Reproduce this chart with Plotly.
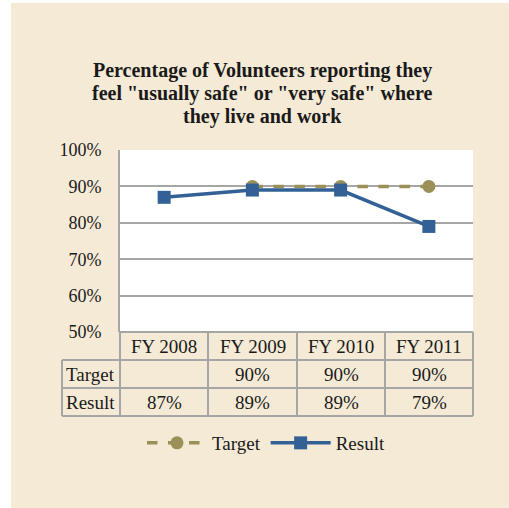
import plotly.graph_objects as go

# ── data ──────────────────────────────────────────────────────────────────────
years   = ['FY 2008', 'FY 2009', 'FY 2010', 'FY 2011']
target  = [None, 90, 90, 90]
result  = [87, 89, 89, 79]
y_ticks = [50, 60, 70, 80, 90, 100]

TITLE_LINES = ['Percentage of Volunteers reporting they',
               'feel "usually safe" or "very safe" where',
               'they live and work']

# ── geometry (pixels) ─────────────────────────────────────────────────────────
W, H = 509, 508
PL, PR, PT, PB = 120, 473, 150, 332      # plot area
ROW_H = 28
LABEL_X = 62
COL_EDGES = [120, 208, 297, 385, 473]

BEIGE = '#F5EAD6'
GRID  = '#A6A6A6'
BLUE  = '#336196'
OLIVE = '#9B9058'
INK   = '#1a1a1a'
FONT  = 'Liberation Serif, Times New Roman, serif'


def px_x(p):
    return (p - PL) / (PR - PL)


def px_y(p):
    return (PB - p) / (PB - PT)


fig = go.Figure()
fig.add_trace(go.Scatter(
    x=years, y=target, name='Target', mode='lines+markers',
    line=dict(color=OLIVE, width=3.5, dash='dash'),
    marker=dict(symbol='circle', size=13, color=OLIVE),
))
fig.add_trace(go.Scatter(
    x=years, y=result, name='Result', mode='lines+markers',
    line=dict(color=BLUE, width=3.5),
    marker=dict(symbol='square', size=13, color=BLUE),
))

# white page margin at the left and top of the beige panel
shapes = [
    dict(type='rect', xref='paper', yref='paper', layer='below',
         x0=px_x(-5), x1=px_x(11), y0=px_y(H + 5), y1=px_y(-5),
         fillcolor='white', line_width=0),
    dict(type='rect', xref='paper', yref='paper', layer='below',
         x0=px_x(-5), x1=px_x(W + 5), y0=px_y(3), y1=px_y(-5),
         fillcolor='white', line_width=0),
]

line_kw = dict(type='line', xref='paper', yref='paper',
               line=dict(color=GRID, width=2))
# horizontal table lines
shapes.append(dict(line_kw, x0=px_x(PL), x1=px_x(PR), y0=px_y(PB), y1=px_y(PB)))
for r in (1, 2, 3):
    yy = px_y(PB + r * ROW_H)
    shapes.append(dict(line_kw, x0=px_x(LABEL_X), x1=px_x(PR), y0=yy, y1=yy))
# vertical table lines
shapes.append(dict(line_kw, x0=px_x(LABEL_X), x1=px_x(LABEL_X),
                   y0=px_y(PB + ROW_H), y1=px_y(PB + 3 * ROW_H)))
for e in COL_EDGES:
    shapes.append(dict(line_kw, x0=px_x(e), x1=px_x(e),
                       y0=px_y(PB), y1=px_y(PB + 3 * ROW_H)))

annotations = []
txt = dict(xref='paper', yref='paper', showarrow=False,
           font=dict(family=FONT, size=19, color=INK),
           yanchor='middle')
for i, yr in enumerate(years):
    cx = px_x((COL_EDGES[i] + COL_EDGES[i + 1]) / 2)
    annotations.append(dict(txt, x=cx, y=px_y(PB + ROW_H / 2), text=yr,
                            xanchor='center'))
    if target[i] is not None:
        annotations.append(dict(txt, x=cx, y=px_y(PB + 1.5 * ROW_H),
                                text=f'{target[i]}%', xanchor='center'))
    annotations.append(dict(txt, x=cx, y=px_y(PB + 2.5 * ROW_H),
                            text=f'{result[i]}%', xanchor='center'))
annotations.append(dict(txt, x=px_x(LABEL_X + 2), y=px_y(PB + 1.5 * ROW_H),
                        text='Target', xanchor='left'))
annotations.append(dict(txt, x=px_x(LABEL_X + 2), y=px_y(PB + 2.5 * ROW_H),
                        text='Result', xanchor='left'))
# chart title, one annotation per line for tighter line spacing
for k, line in enumerate(TITLE_LINES):
    annotations.append(dict(xref='paper', yref='paper', showarrow=False,
                            x=px_x(262), xanchor='center',
                            y=px_y(70 + 23 * k), yanchor='middle', text=line,
                            font=dict(family=FONT, size=20, color=INK,
                                      weight='bold')))

fig.update_layout(
    width=W, height=H,
    margin=dict(l=PL, r=W - PR, t=PT, b=H - PB),
    paper_bgcolor=BEIGE, plot_bgcolor='white',
    font=dict(family=FONT, size=18, color=INK),
    xaxis=dict(range=[-0.5, 3.5], showticklabels=False, showgrid=False,
               zeroline=False, ticks=''),
    yaxis=dict(range=[50, 100], tickvals=y_ticks,
               ticktext=[f'{v}%' for v in y_ticks],
               showgrid=True, gridcolor=GRID, gridwidth=2,
               showline=True, linecolor=GRID, linewidth=2,
               zeroline=False, ticks='', ticklabelstandoff=13,
               tickfont=dict(family=FONT, size=18, color=INK)),
    showlegend=True,
    legend=dict(orientation='h', x=px_x(266), xanchor='center',
                y=px_y(443), yanchor='middle', bgcolor='rgba(0,0,0,0)',
                font=dict(family=FONT, size=19, color=INK), itemwidth=60),
    shapes=shapes, annotations=annotations,
)

page_css = (
    "var s=document.createElement('style');"
    "s.textContent='html,body{margin:0;padding:0;overflow:hidden;"
    f"background:{BEIGE};scrollbar-width:none}}"
    "::-webkit-scrollbar{display:none;width:0;height:0}';"
    "document.head.appendChild(s);"
)
fig.write_html('out.html', config=dict(displayModeBar=False),
               post_script=page_css)
